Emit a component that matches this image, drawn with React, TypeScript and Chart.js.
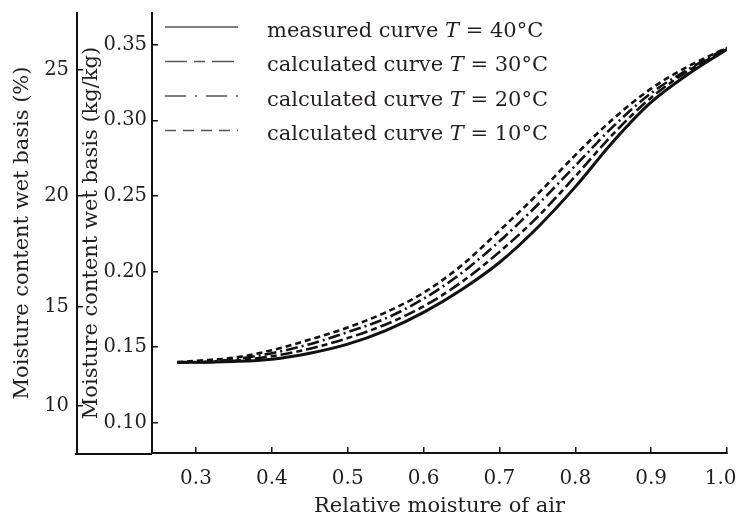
import React, { useEffect, useRef } from "react";
import { Chart, registerables } from "chart.js";

Chart.register(...registerables);

// Relative moisture of air (x) and moisture content (kg/kg) for each curve
const RH = [0.275, 0.3, 0.35, 0.4, 0.45, 0.5, 0.55, 0.6, 0.65, 0.7, 0.75, 0.8, 0.85, 0.9, 0.95, 1.0];
const MEASURED_40 = [0.140, 0.140, 0.1405, 0.142, 0.146, 0.152, 0.161, 0.173, 0.188, 0.206, 0.229, 0.256, 0.286, 0.312, 0.331, 0.347];
const CALC_30 = [0.140, 0.140, 0.141, 0.144, 0.149, 0.156, 0.165, 0.177, 0.193, 0.213, 0.236, 0.263, 0.291, 0.315, 0.333, 0.347];
const CALC_20 = [0.140, 0.140, 0.142, 0.146, 0.152, 0.160, 0.169, 0.182, 0.199, 0.220, 0.244, 0.270, 0.296, 0.318, 0.334, 0.348];
const CALC_10 = [0.140, 0.141, 0.143, 0.148, 0.155, 0.163, 0.173, 0.186, 0.204, 0.227, 0.251, 0.277, 0.301, 0.321, 0.336, 0.348];

const SERIES_NAMES = ["measured curve", "calculated curve", "calculated curve", "calculated curve"];
const SERIES_TEMPS = [40, 30, 20, 10];

const X_TICKS = [0.3, 0.4, 0.5, 0.6, 0.7, 0.8, 0.9, 1.0];
const KG_TICKS = [0.10, 0.15, 0.20, 0.25, 0.30, 0.35];
const PCT_TICKS = [10, 15, 20, 25];

const X_TITLE = "Relative moisture of air";
const KG_TITLE = "Moisture content wet basis (kg/kg)";
const PCT_TITLE = "Moisture content wet basis (%)";

const X_MIN = 0.242;
const X_MAX = 1.0;
const Y_MIN = 0.08;
const Y_MAX = 0.371;

const FONT = "'DejaVu Serif', serif";
const TEXT = "#231f20";
const INK = "#111111";

const PLOT_DASH = [[], [12, 4, 6, 4], [12, 4, 2, 4], [6, 4]];
const LEGEND_DASH = [[], [22, 7, 11, 7], [21, 9, 2, 9], [11, 7]];

const legendPlugin = {
  id: "curveLegend",
  afterDraw(chart: any) {
    const { ctx, chartArea } = chart;
    ctx.save();
    SERIES_NAMES.forEach((name, i) => {
      const base = chartArea.top + 23.5 + 34.5 * i;
      const ly = base - 9.5;
      ctx.beginPath();
      ctx.setLineDash(LEGEND_DASH[i]);
      ctx.strokeStyle = "#555";
      ctx.lineWidth = 1.6;
      ctx.moveTo(chartArea.left + 13, ly);
      ctx.lineTo(chartArea.left + 86, ly);
      ctx.stroke();
      ctx.setLineDash([]);
      ctx.fillStyle = TEXT;
      ctx.textBaseline = "alphabetic";
      ctx.textAlign = "left";
      let x = chartArea.left + 115;
      const normal = `21px ${FONT}`;
      const italic = `italic 21px ${FONT}`;
      const parts: [string, string][] = [
        [name + " ", normal],
        ["T", italic],
        [` = ${SERIES_TEMPS[i]}°C`, normal],
      ];
      parts.forEach(([t, f]) => {
        ctx.font = f;
        ctx.fillText(t, x, base);
        x += ctx.measureText(t).width;
      });
    });
    ctx.restore();
  },
};

const axisExtendPlugin = {
  id: "axisExtend",
  afterDraw(chart: any) {
    const { ctx, chartArea, scales } = chart;
    const y = scales.x.top + 1;
    ctx.save();
    ctx.strokeStyle = INK;
    ctx.lineWidth = 2;
    ctx.beginPath();
    ctx.moveTo(scales.y2.right - 2, y);
    ctx.lineTo(chartArea.left, y);
    ctx.stroke();
    ctx.restore();
  },
};

export default function App() {
  const ref = useRef<HTMLCanvasElement | null>(null);

  useEffect(() => {
    if (!ref.current) return;
    const mk = (arr: number[]) => RH.map((x, i) => ({ x, y: arr[i] }));
    const series = [MEASURED_40, CALC_30, CALC_20, CALC_10];
    const chart = new Chart(ref.current, {
      type: "line",
      data: {
        datasets: series.map((s, i) => ({
          label: `${SERIES_NAMES[i]} T = ${SERIES_TEMPS[i]}°C`,
          data: mk(s),
          borderColor: INK,
          borderWidth: i === 0 ? 3 : 2.6,
          borderDash: PLOT_DASH[i],
          pointRadius: 0,
          fill: false,
          cubicInterpolationMode: "monotone",
          xAxisID: "x",
          yAxisID: "y",
        })),
      },
      options: {
        animation: false,
        responsive: false,
        layout: { padding: { top: 13, right: 10, left: 0, bottom: 0 } },
        plugins: { legend: { display: false }, tooltip: { enabled: false } },
        scales: {
          x: {
            type: "linear",
            position: "bottom",
            min: X_MIN,
            max: X_MAX,
            afterBuildTicks: (s: any) => {
              s.ticks = X_TICKS.map((v) => ({ value: v }));
            },
            afterFit: (s: any) => {
              s.height = 66;
              s.paddingLeft = 0;
              s.paddingRight = 0;
            },
            ticks: {
              font: { family: FONT, size: 20 },
              color: TEXT,
              padding: 20,
              maxRotation: 0,
              autoSkip: false,
              callback: (v: any, i: number) =>
                Number(v).toFixed(1) + (i === X_TICKS.length - 1 ? "\u2007" : ""),
            },
            grid: { drawOnChartArea: false, drawTicks: true, tickLength: -6, color: INK, lineWidth: 1.5 },
            border: { display: true, color: INK, width: 2 },
            title: {
              display: true,
              text: X_TITLE,
              font: { family: FONT, size: 21 },
              color: TEXT,
              padding: { top: 0, bottom: 0 },
            },
          },
          y: {
            type: "linear",
            position: "left",
            weight: 0,
            min: Y_MIN,
            max: Y_MAX,
            afterBuildTicks: (s: any) => {
              s.ticks = KG_TICKS.map((v) => ({ value: v }));
            },
            afterFit: (s: any) => {
              s.width = 75;
              s.paddingTop = 0;
              s.paddingBottom = 0;
            },
            ticks: {
              font: { family: FONT, size: 19.5 },
              color: TEXT,
              padding: 11,
              autoSkip: false,
              callback: (v: any) => Number(v).toFixed(2),
            },
            grid: { drawOnChartArea: false, drawTicks: true, tickLength: -6, color: INK, lineWidth: 1.5 },
            border: { display: true, color: INK, width: 2 },
            title: {
              display: true,
              text: KG_TITLE,
              font: { family: FONT, size: 21 },
              color: TEXT,
              padding: { top: 1.5, bottom: 0 },
            },
          },
          y2: {
            type: "linear",
            position: "left",
            weight: 1,
            min: Y_MIN,
            max: Y_MAX,
            afterBuildTicks: (s: any) => {
              s.ticks = PCT_TICKS.map((p) => ({ value: p / (100 - p) }));
            },
            afterFit: (s: any) => {
              s.width = 77;
              s.paddingTop = 0;
              s.paddingBottom = 0;
            },
            ticks: {
              font: { family: FONT, size: 19.5 },
              color: TEXT,
              padding: 14,
              autoSkip: false,
              callback: (_v: any, i: number) => String(PCT_TICKS[i]),
            },
            grid: { drawOnChartArea: false, drawTicks: true, tickLength: -6, color: INK, lineWidth: 1.5 },
            border: { display: true, color: INK, width: 2 },
            title: {
              display: true,
              text: PCT_TITLE,
              font: { family: FONT, size: 21 },
              color: TEXT,
              padding: { top: 10, bottom: 0 },
            },
          },
        },
      },
      plugins: [legendPlugin, axisExtendPlugin],
    } as any);
    return () => chart.destroy();
  }, []);

  return (
    <div style={{ position: "absolute", left: 0, top: 0, width: 737, height: 519, background: "#fff" }}>
      <canvas ref={ref} width={737} height={519} style={{ display: "block" }} />
    </div>
  );
}
